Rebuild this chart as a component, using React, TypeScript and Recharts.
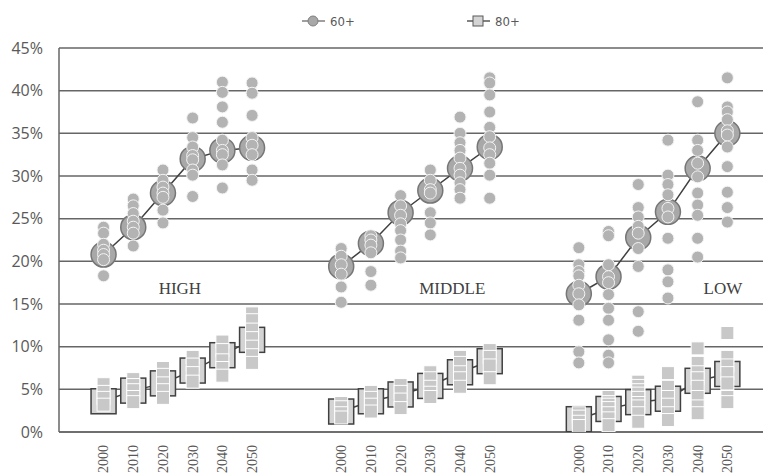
import React from "react";
import {
  ComposedChart,
  Scatter,
  XAxis,
  YAxis,
  CartesianGrid,
  Legend,
} from "recharts";

const YEARS = ["2000", "2010", "2020", "2030", "2040", "2050"];
const GROUP_NAMES = ["HIGH", "MIDDLE", "LOW"];
const Y_TICKS = [0, 5, 10, 15, 20, 25, 30, 35, 40, 45];

// group means (share of population, %)
const MEAN60_HIGH = [20.8, 24.0, 28.0, 32.0, 33.0, 33.3];
const MEAN60_MIDDLE = [19.4, 22.1, 25.7, 28.3, 30.9, 33.4];
const MEAN60_LOW = [16.2, 18.2, 22.8, 25.8, 30.9, 35.0];

const MEAN80_HIGH = [3.6, 4.85, 5.7, 7.2, 9.0, 10.8];
const MEAN80_MIDDLE = [2.4, 3.6, 4.4, 5.4, 7.0, 8.3];
const MEAN80_LOW = [1.5, 2.7, 3.5, 3.9, 6.0, 6.8];

// individual countries, one list per year
const P60_HIGH = [
  [24.0, 23.3, 22.0, 21.3, 20.8, 20.2, 18.3],
  [27.3, 26.5, 25.6, 24.7, 24.0, 23.3, 21.8],
  [30.7, 29.5, 28.7, 28.0, 27.5, 26.0, 24.5],
  [36.8, 34.5, 33.4, 32.4, 31.9, 30.7, 30.1, 27.6],
  [41.0, 39.8, 38.1, 36.3, 34.2, 33.0, 32.5, 31.3, 28.6],
  [40.9, 39.7, 37.1, 34.5, 33.6, 32.5, 30.7, 29.5],
];
const P60_MIDDLE = [
  [21.5, 20.6, 19.6, 18.5, 17.0, 15.2],
  [23.0, 22.5, 21.9, 21.0, 18.8, 17.2],
  [27.7, 26.5, 25.4, 24.4, 23.6, 22.5, 21.2, 20.4],
  [30.7, 29.5, 28.4, 28.0, 25.7, 24.5, 23.1],
  [36.9, 35.0, 33.9, 33.0, 32.1, 30.9, 30.1, 29.2, 28.4, 27.4],
  [41.5, 40.9, 39.5, 37.5, 35.7, 34.6, 33.3, 32.5, 31.5, 30.1, 27.4],
];
const P60_LOW = [
  [21.6, 19.6, 18.8, 18.3, 17.2, 16.2, 14.9, 13.1, 9.4, 8.1],
  [23.5, 23.0, 19.6, 18.2, 17.5, 16.1, 14.5, 13.1, 10.8, 9.0, 8.1],
  [29.0, 26.3, 25.2, 24.1, 23.3, 21.5, 19.4, 14.1, 11.8],
  [34.2, 30.1, 29.0, 27.8, 26.2, 25.2, 22.7, 19.0, 17.6, 15.7],
  [38.7, 34.2, 33.0, 31.5, 29.9, 28.0, 26.6, 25.4, 22.7, 20.5],
  [41.5, 38.1, 37.5, 36.6, 35.3, 34.8, 33.4, 31.1, 28.1, 26.3, 24.6],
];

const P80_HIGH = [
  [5.6, 4.7, 4.0, 3.2],
  [6.2, 5.5, 4.9, 4.1, 3.5],
  [7.5, 6.7, 5.7, 4.9, 4.0],
  [8.8, 7.9, 6.9, 5.9],
  [10.6, 9.6, 8.4, 7.5, 6.6],
  [13.9, 13.1, 12.0, 11.0, 10.0, 9.0, 8.1],
];
const P80_MIDDLE = [
  [3.4, 2.9, 2.2, 1.7],
  [4.7, 4.0, 3.2, 2.4],
  [5.5, 4.7, 3.8, 2.8],
  [7.0, 6.3, 5.3, 4.6, 4.1],
  [8.8, 8.1, 7.0, 6.3, 5.3],
  [9.6, 8.8, 7.8, 6.3],
];
const P80_LOW = [
  [2.2, 1.8, 1.2, 0.7],
  [4.1, 3.5, 3.2, 2.8, 2.2, 1.6, 0.8],
  [5.9, 5.4, 4.9, 4.5, 4.0, 3.4, 3.0, 2.2, 1.2],
  [6.9, 5.3, 4.1, 3.2, 2.2, 1.4],
  [9.8, 8.1, 7.0, 6.3, 5.3, 4.1, 3.0, 2.2],
  [11.6, 8.8, 7.8, 6.9, 5.7, 4.1, 3.5],
];

// where the group names sit (x slot, y %)
const GROUP_LABEL_X = [2.57, 11.74, 20.85];
const GROUP_LABEL_Y = [16.8, 16.8, 16.8];

const GROUP_GAP = 8; // slots from one group start to the next

const MEANS60 = [MEAN60_HIGH, MEAN60_MIDDLE, MEAN60_LOW];
const MEANS80 = [MEAN80_HIGH, MEAN80_MIDDLE, MEAN80_LOW];
const POINTS60 = [P60_HIGH, P60_MIDDLE, P60_LOW];
const POINTS80 = [P80_HIGH, P80_MIDDLE, P80_LOW];

const slot = (g: number, i: number) => g * GROUP_GAP + i;

const meanSeries = (means: number[][]) =>
  means.map((vals, g) => vals.map((v, i) => ({ x: slot(g, i), y: v })));

const pointSeries = (pts: number[][][]) =>
  pts.flatMap((byYear, g) =>
    byYear.flatMap((vals, i) => vals.map((v) => ({ x: slot(g, i), y: v })))
  );

const xTicks = GROUP_NAMES.flatMap((_, g) => YEARS.map((_, i) => slot(g, i)));
const yearOf = (v: number) => YEARS[v % GROUP_GAP] ?? "";

const labelData = GROUP_NAMES.map((name, g) => ({
  x: GROUP_LABEL_X[g],
  y: GROUP_LABEL_Y[g],
  name,
}));

const GRID = "#666666";
const TEXT = "#595959";
const NARROW = "'Liberation Sans Narrow', 'DejaVu Sans Condensed', sans-serif";

const BigCircle = (p: any) => (
  <circle cx={p.cx} cy={p.cy} r={12.5} fill="#a8a8a8" stroke="#767676" strokeWidth={1.5} />
);
const SmallCircle = (p: any) => (
  <circle cx={p.cx} cy={p.cy} r={6} fill="#b3b3b3" stroke="#f4f4f4" strokeWidth={1} />
);
const BigSquare = (p: any) => (
  <rect x={p.cx - 12.5} y={p.cy - 12.5} width={25} height={25} fill="#d4d4d4" stroke="#404040" strokeWidth={1.5} />
);
const SmallSquare = (p: any) => (
  <rect x={p.cx - 6.5} y={p.cy - 6.5} width={13} height={13} fill="#c8c8c8" stroke="#ffffff" strokeWidth={1} />
);
const GroupLabel = (p: any) => (
  <text
    x={p.cx}
    y={p.cy}
    dy="0.33em"
    textAnchor="middle"
    fontFamily="'Liberation Serif', serif"
    fontSize={17}
    fill="#404040"
  >
    {p.payload.name}
  </text>
);

const YearTick = ({ x, y, payload }: any) => (
  <text
    transform={`translate(${x},${y}) rotate(-90)`}
    textAnchor="end"
    dy="0.35em"
    fontFamily="'Liberation Serif', serif"
    fontSize={14}
    fill={TEXT}
  >
    {yearOf(payload.value)}
  </text>
);

const LegendBox = () => (
  <svg width={763} height={30}>
    <line x1={302} y1={15} x2={325} y2={15} stroke="#7f7f7f" strokeWidth={1.5} />
    <circle cx={313} cy={15} r={5} fill="#a8a8a8" stroke="#7f7f7f" />
    <text x={330} y={20} fontFamily={NARROW} fontSize={13} fill={TEXT}>
      60+
    </text>
    <line x1={467} y1={15} x2={490} y2={15} stroke="#595959" strokeWidth={1.5} />
    <rect x={473} y={10} width={10} height={10} fill="#d4d4d4" stroke="#595959" />
    <text x={495} y={20} fontFamily={NARROW} fontSize={13} fill={TEXT}>
      80+
    </text>
  </svg>
);

export default function App() {
  const m60 = meanSeries(MEANS60);
  const m80 = meanSeries(MEANS80);
  const p60 = pointSeries(POINTS60);
  const p80 = pointSeries(POINTS80);

  return (
    <div style={{ position: "absolute", left: 0, top: 0, background: "#fff" }}>
      <ComposedChart width={763} height={473} margin={{ top: 18, right: 0, bottom: 0, left: 0 }}>
        <Legend verticalAlign="top" content={<LegendBox />} wrapperStyle={{ top: 6, left: 0, width: 763, height: 30 }} />
        <CartesianGrid vertical={false} stroke={GRID} strokeWidth={1.5} />
        <XAxis
          type="number"
          dataKey="x"
          domain={[-1.5, 22.2]}
          ticks={xTicks}
          interval={0}
          tick={<YearTick />}
          tickLine={false}
          tickSize={0}
          tickMargin={13}
          axisLine={{ stroke: GRID, strokeWidth: 1.5 }}
          height={41}
          allowDataOverflow
        />
        <YAxis
          type="number"
          dataKey="y"
          domain={[0, 45]}
          ticks={Y_TICKS}
          interval={0}
          tickFormatter={(v) => `${v}%`}
          tick={{ fontFamily: "'Open Sans', sans-serif", fontSize: 16, fill: TEXT }}
          tickLine={false}
          tickSize={0}
          tickMargin={16}
          axisLine={{ stroke: GRID, strokeWidth: 1.5 }}
          width={59}
          allowDataOverflow
        />
        <Scatter data={labelData} shape={<GroupLabel />} isAnimationActive={false} legendType="none" />
        {m60.map((d, g) => (
          <Scatter
            key={`m60-${g}`}
            data={d}
            shape={<BigCircle />}
            line={{ stroke: "#404040", strokeWidth: 1.5 }}
            isAnimationActive={false}
          />
        ))}
        {m80.map((d, g) => (
          <Scatter
            key={`m80-${g}`}
            data={d}
            shape={<BigSquare />}
            line={{ stroke: "#404040", strokeWidth: 1.5 }}
            isAnimationActive={false}
          />
        ))}
        <Scatter name="60+" data={p60} shape={<SmallCircle />} isAnimationActive={false} />
        <Scatter name="80+" data={p80} shape={<SmallSquare />} isAnimationActive={false} />
      </ComposedChart>
    </div>
  );
}
